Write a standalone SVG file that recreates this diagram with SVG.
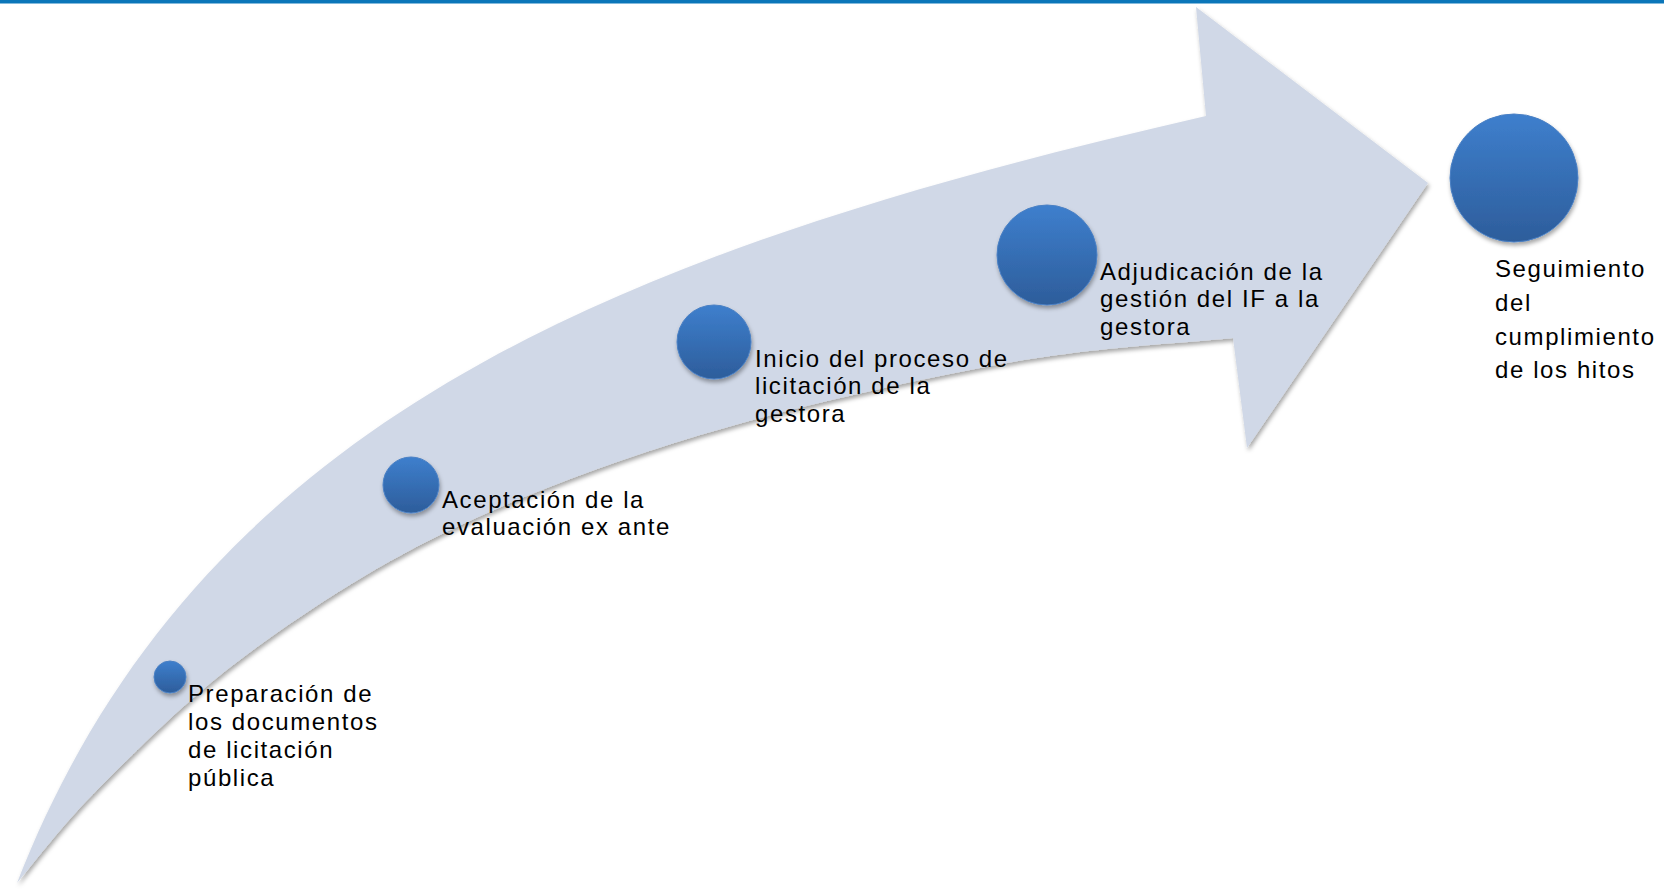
<svg xmlns="http://www.w3.org/2000/svg" width="1664" height="889" viewBox="0 0 1664 889">
  <defs>
    <linearGradient id="ballGrad" x1="0" y1="0" x2="0" y2="1">
      <stop offset="0" stop-color="#3E7FCD"/>
      <stop offset="1" stop-color="#2D5D9B"/>
    </linearGradient>
    <filter id="arrowShadow" x="-5%" y="-5%" width="110%" height="115%">
      <feDropShadow dx="1.5" dy="3" stdDeviation="2" flood-color="#000" flood-opacity="0.35"/>
    </filter>
    <filter id="ballShadow" x="-30%" y="-30%" width="160%" height="170%">
      <feDropShadow dx="1" dy="3" stdDeviation="2" flood-color="#000" flood-opacity="0.35"/>
    </filter>
  </defs>
  <style>
    .ball { fill: url(#ballGrad); stroke: #4A80C4; stroke-width: 1; filter: url(#ballShadow); }
    .lbl { font-family: "Liberation Sans", Arial, sans-serif; font-size: 24px; letter-spacing: 1.6px; fill: #000; }
  </style>
  <rect x="0" y="0" width="1664" height="889" fill="#FFFFFF"/>
  <rect x="0" y="0" width="1664" height="3.5" fill="#0B76B9"/>

  <g id="connectors">
    <path id="arrow" filter="url(#arrowShadow)" fill="#D0D8E7"
      d="M17,883 C198,418 621,250 1206,116 L1196,7 L1428,183 L1247,448 L1233,338 C1195.3,342.2 1095.8,346.8 1007,363 C918.2,379.2 793.8,406.7 700,435 C606.2,463.3 519.8,496.2 444,533 C368.2,569.8 302.3,613.7 245,656 C187.7,698.3 137.8,749.3 100,787 C62,824.8 30.8,867 17,883 Z"/>
  </g>

  <g id="node1">
    <circle class="ball" cx="170" cy="677" r="16"/>
    <text class="lbl" x="188" y="702">Preparación de</text>
    <text class="lbl" x="188" y="730">los documentos</text>
    <text class="lbl" x="188" y="758">de licitación</text>
    <text class="lbl" x="188" y="786">pública</text>
  </g>

  <g id="node2">
    <circle class="ball" cx="411" cy="485" r="28"/>
    <text class="lbl" x="442" y="508">Aceptación de la</text>
    <text class="lbl" x="442" y="535">evaluación ex ante</text>
  </g>

  <g id="node3">
    <circle class="ball" cx="714" cy="342" r="37"/>
    <text class="lbl" x="755" y="367">Inicio del proceso de</text>
    <text class="lbl" x="755" y="394">licitación de la</text>
    <text class="lbl" x="755" y="422">gestora</text>
  </g>

  <g id="node4">
    <circle class="ball" cx="1047" cy="255" r="50"/>
    <text class="lbl" x="1100" y="280">Adjudicación de la</text>
    <text class="lbl" x="1100" y="307">gestión del IF a la</text>
    <text class="lbl" x="1100" y="335">gestora</text>
  </g>

  <g id="node5">
    <circle class="ball" cx="1514" cy="178" r="64"/>
    <text class="lbl" x="1495" y="277">Seguimiento</text>
    <text class="lbl" x="1495" y="311">del</text>
    <text class="lbl" x="1495" y="345">cumplimiento</text>
    <text class="lbl" x="1495" y="378">de los hitos</text>
  </g>
</svg>
